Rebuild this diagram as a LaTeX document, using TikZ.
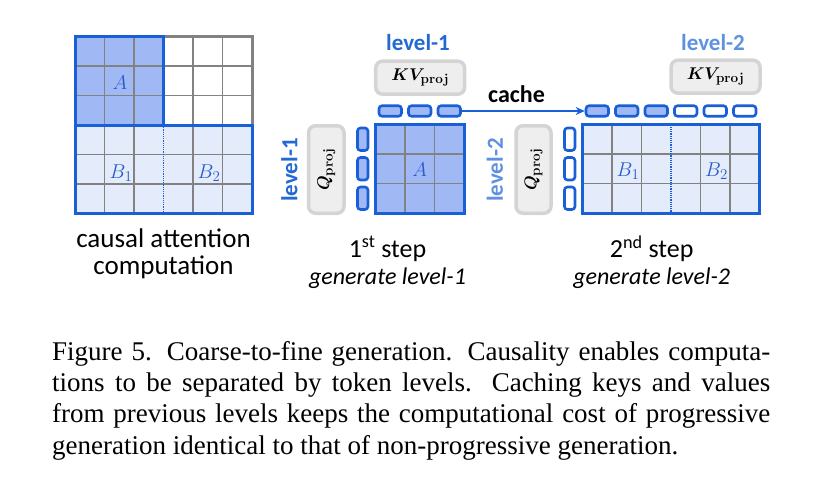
\RequirePackage{fix-cm}
\documentclass[tikz,border=0pt]{standalone}
\usepackage{amsmath}
\usepackage{bm}
\usepackage[no-math]{fontspec}
\setmainfont{Carlito}
\newfontfamily\capfont{Liberation Serif}
\usetikzlibrary{positioning}
\usetikzlibrary{arrows.meta}
\DeclareMathSizes{17}{17}{13.5}{10}
\DeclareMathSizes{20}{20}{15}{11}

\definecolor{bluelin}{RGB}{25,95,215}
\definecolor{afill}{RGB}{160,185,245}
\definecolor{bfill}{RGB}{228,235,251}
\definecolor{gridgray}{RGB}{130,130,130}
\definecolor{projfill}{RGB}{238,238,238}
\definecolor{projdraw}{RGB}{212,212,212}
\definecolor{lvlone}{RGB}{35,105,210}
\definecolor{lvltwo}{RGB}{95,145,225}
\definecolor{mathblue}{RGB}{40,90,205}

\tikzset{
    gridline/.style={draw=gridgray, line width=1.3pt},
    border/.style={draw=bluelin, line width=3pt},
    grayframe/.style={draw=gridgray, line width=3pt},
    keybox/.style={draw=bluelin, line width=2.6pt, rounded corners=3,
        minimum width=22.5pt, minimum height=10.5pt, inner sep=0},
    qbox/.style={keybox, minimum width=10.5pt, minimum height=22.5pt},
    projbox/.style={draw=projdraw, fill=projfill, line width=3.5pt,
        rounded corners=7, inner sep=0},
    projtxt/.style={font=\fontsize{17}{19}\selectfont},
    mlabel/.style={text=mathblue, font=\fontsize{20}{22}\selectfont},
    lvl/.style={font=\fontsize{23}{26}\selectfont\bfseries},
    steptxt/.style={font=\fontsize{26}{30}\selectfont},
    subtxt/.style={font=\fontsize{24}{28}\selectfont\itshape}
}

\begin{document}
\begin{tikzpicture}[x=1pt, y=-1pt]
    \useasboundingbox (0,0) rectangle (821,498);

    % causal attention matrix
    \fill[afill] (75,36.5) rectangle (163.5,125);
    \fill[bfill] (75,125) rectangle (252,213.5);
    \foreach \i in {1,2,4,5} {
        \draw[gridline] ({75+\i*29.5},36.5) -- ++(0,177);
        \draw[gridline] (75,{36.5+\i*29.5}) -- ++(177,0);
    }
    \draw[grayframe] (163.5,36.5) -| (252,125);
    \draw[border] (75,36.5) rectangle (163.5,125);
    \draw[border] (75,125) rectangle (252,213.5);
    \draw[bluelin, densely dotted, line width=1.2pt] (163.5,125) -- (163.5,213.5);
    \node[mlabel] (la) at (120,83) {$A$};
    \node[mlabel] (lb1) at (121,173) {$B_1$};
    \node[mlabel] (lb2) at (209,173) {$B_2$};
    \node[steptxt, align=center, font=\fontsize{27}{27.5}\selectfont] (causal) at (163.5,254)
        {causal attention\\computation};

    % 1st step
    \fill[afill] (375.5,124.5) rectangle (464,213);
    \foreach \i in {1,2} {
        \draw[gridline] ({375.5+\i*29.5},124.5) -- ++(0,88.5);
        \draw[gridline] (375.5,{124.5+\i*29.5}) -- ++(88.5,0);
    }
    \draw[border] (375.5,124.5) rectangle (464,213);
    \node[mlabel] (ma) at (419.75,170) {$A$};
    \node[keybox, fill=afill] (k1a) at (390.25,111) {};
    \node[keybox, fill=afill] (k2a) at (419.75,111) {};
    \node[keybox, fill=afill] (k3a) at (449.25,111) {};
    \node[qbox, fill=afill] (q1a) at (362.7,139.25) {};
    \node[qbox, fill=afill] (q2a) at (362.7,168.75) {};
    \node[qbox, fill=afill] (q3a) at (362.7,198.25) {};
    \node[projbox, projtxt, minimum width=89pt, minimum height=33pt] (kva) at (420.2,77.7)
        {$\bm{KV}_{\mathbf{proj}}$};
    \node[projbox, projtxt, rotate=90, minimum width=87.5pt, minimum height=35.5pt] (qpa) at (326.3,169.5)
        {$\bm{Q}_{\mathbf{proj}}$};
    \node[lvl, text=lvlone] (lvkva) at (418,43) {level-1};
    \node[lvl, text=lvlone, rotate=90] (lvqa) at (289.5,170) {level-1};
    \node[steptxt] (stepa) at (387.5,249) {1\textsuperscript{st} step};
    \node[subtxt] (gena) at (387.5,278) {generate level-1};

    % 2nd step
    \fill[bfill] (582.5,124.5) rectangle (759.5,213);
    \foreach \i in {1,2,4,5} {
        \draw[gridline] ({582.5+\i*29.5},124.5) -- ++(0,88.5);
    }
    \foreach \i in {1,2} {
        \draw[gridline] (582.5,{124.5+\i*29.5}) -- ++(177,0);
    }
    \draw[bluelin, densely dotted, line width=1.2pt] (671,124.5) -- (671,213);
    \draw[border] (582.5,124.5) rectangle (759.5,213);
    \node[mlabel] (mb1) at (628,171) {$B_1$};
    \node[mlabel] (mb2) at (716.5,171) {$B_2$};
    \node[keybox, fill=afill] (k1b) at (597.25,111) {};
    \node[keybox, fill=afill] (k2b) at (626.75,111) {};
    \node[keybox, fill=afill] (k3b) at (656.25,111) {};
    \node[keybox, fill=white] (k4b) at (685.75,111) {};
    \node[keybox, fill=white] (k5b) at (715.25,111) {};
    \node[keybox, fill=white] (k6b) at (744.75,111) {};
    \node[qbox, fill=white] (q1b) at (569.7,139.25) {};
    \node[qbox, fill=white] (q2b) at (569.7,168.75) {};
    \node[qbox, fill=white] (q3b) at (569.7,198.25) {};
    \node[projbox, projtxt, minimum width=89pt, minimum height=33pt] (kvb) at (715.5,76.7)
        {$\bm{KV}_{\mathbf{proj}}$};
    \node[projbox, projtxt, rotate=90, minimum width=87.5pt, minimum height=35pt] (qpb) at (533.5,169.5)
        {$\bm{Q}_{\mathbf{proj}}$};
    \node[lvl, text=lvltwo] (lvkvb) at (713,43) {level-2};
    \node[lvl, text=lvltwo, rotate=90] (lvqb) at (495,170) {level-2};
    \node[steptxt] (stepb) at (651.7,249) {2\textsuperscript{nd} step};
    \node[subtxt] (genb) at (651.7,278) {generate level-2};

    % cache arrow
    \draw[-{Stealth[length=9pt, width=8pt]}, bluelin, line width=2.2pt] (k3a) -- (k1b);
    \node[lvl, font=\fontsize{24}{26}\selectfont\bfseries] (cache) at (516.5,94) {cache};

    % caption
    \node[anchor=north west, inner sep=0, text width=718pt, align=justify,
        font=\capfont\fontsize{27}{31.3}\selectfont] (caption) at (52,341)
        {Figure 5. Coarse-to-fine generation. Causality enables computa-\linebreak
        tions to be separated by token levels. Caching keys and values\linebreak
        from previous levels keeps the computational cost of progressive\linebreak
        generation identical to that of non-progressive generation.};
\end{tikzpicture}
\end{document}
